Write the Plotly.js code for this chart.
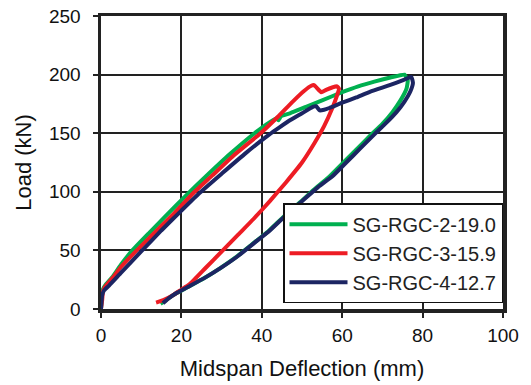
<!DOCTYPE html>
<html>
<head>
<meta charset="utf-8">
<script src="https://cdn.plot.ly/plotly-3.0.1.min.js"></script>
<style>html,body{margin:0;padding:0;background:#fff;}#chart{width:531px;height:385px;}</style>
</head>
<body>
<div id="chart"></div>
<script>
// SG-RGC-2-19.0 (green)
const g2_x = [0, 0.2, 0.5, 1.2, 3, 5, 7.8, 12, 16, 21.5, 26.2, 32, 38.2, 42, 43.6, 44.1, 44.8, 47, 51, 55, 60, 64, 68, 72, 75.5,
              76.3, 76, 74.5, 72.5, 70, 67, 63.5, 60, 56.5, 53, 49.5, 45.5, 41.5, 37.5, 33.5, 29.5, 25.5, 21.5, 18.5, 16.5, 14.8];
const g2_y = [0, 10, 17, 21, 28, 38, 50, 65, 79, 98, 113.5, 132, 150, 159.5, 162.5, 161, 164.5, 167, 172.5, 178, 185, 190, 194, 197.5, 200,
              195, 188, 178, 168, 158, 148, 136, 124, 112, 102, 91, 79, 66, 55, 44, 34.5, 26, 18.5, 13, 8.5, 4.5];
// SG-RGC-3-15.9 (red)
const g3_x = [0, 0.3, 0.5, 1, 3, 5, 8.9, 13, 18, 23, 27.7, 33, 39.7, 44, 47.7, 50.5, 52.3, 53, 54.8, 56, 57.5, 58.7,
              59.2, 58.7, 57.5, 55.5, 53, 50, 46, 42, 38, 34, 30, 26, 22, 20, 18, 15.5, 13.7];
const g3_y = [0, 8, 15, 19, 27, 36, 50, 64, 81, 99, 114, 131, 150, 164, 177, 186, 190.5, 191, 185, 187, 189, 190,
              188, 182, 171, 156, 141, 125, 108, 92, 77, 63, 49, 35, 21, 16.5, 12, 7.5, 5.5];
// SG-RGC-4-12.7 (navy)
const g4_x = [0, 0.3, 0.8, 2, 5, 9.7, 15, 20, 24.5, 30.2, 36, 41.9, 44.4, 47, 50, 52.7, 53.5, 54.4, 55.5, 56.8, 60, 63.5, 67, 71.8, 75, 77.2,
              77.6, 77, 75.5, 73.5, 71, 68, 64.5, 61, 57.5, 54, 50, 46, 42, 38, 34, 30, 26, 22, 19, 17, 15.4];
const g4_y = [0, 12, 16, 20, 31, 48, 67, 84, 99, 116, 133, 149, 155, 161, 167, 172.5, 173, 169.5, 170, 171.5, 176, 180.5, 185.5, 191, 195, 198,
              193, 186, 177, 168, 159, 149, 137, 125, 113, 104, 92, 80, 67, 56, 45, 35.5, 27, 19.5, 14, 9.5, 5];

const names = ['SG-RGC-2-19.0', 'SG-RGC-3-15.9', 'SG-RGC-4-12.7'];
const colors = ['#00B050', '#ED1C24', '#1C2563'];
const xs = [g2_x, g3_x, g4_x];
const ys = [g2_y, g3_y, g4_y];

const traces = names.map((n, i) => ({
  x: xs[i], y: ys[i], name: n, type: 'scatter', mode: 'lines',
  line: {color: colors[i], width: 4, shape: 'spline', smoothing: 0.4},
  legendgroup: 'g' + i
}));

const FONT = '"Liberation Sans", Arial, sans-serif';
const layout = {
  width: 531, height: 385,
  margin: {l: 101, r: 28, t: 16, b: 76},
  paper_bgcolor: '#fff', plot_bgcolor: '#fff',
  font: {family: FONT, size: 19, color: '#111'},
  showlegend: true,
  legend: {
    x: 1.0, y: 0.02, xanchor: 'right', yanchor: 'bottom',
    bgcolor: '#fff', bordercolor: '#111', borderwidth: 1.5,
    font: {family: FONT, size: 20, color: '#222'},
    traceorder: 'grouped', tracegroupgap: 0, itemwidth: 58
  },
  xaxis: {
    range: [0, 100], tickvals: [0, 20, 40, 60, 80, 100],
    showgrid: true, gridcolor: '#222', gridwidth: 2,
    showline: true, linecolor: '#222', linewidth: 3.5, mirror: true,
    ticks: 'outside', ticklen: 5, tickwidth: 2, tickcolor: '#222',
    ticklabelstandoff: 2,
    zeroline: false,
    tickfont: {family: FONT, size: 19, color: '#111'},
    title: {text: 'Midspan Deflection (mm)', font: {family: FONT, size: 22, color: '#111'}, standoff: 16}
  },
  yaxis: {
    range: [0, 250], tickvals: [0, 50, 100, 150, 200, 250],
    showgrid: true, gridcolor: '#222', gridwidth: 2,
    showline: true, linecolor: '#222', linewidth: 3.5, mirror: true,
    ticks: 'outside', ticklen: 5, tickwidth: 2, tickcolor: '#222',
    ticklabelstandoff: 8,
    zeroline: false,
    tickfont: {family: FONT, size: 19, color: '#111'},
    title: {text: 'Load (kN)', font: {family: FONT, size: 22, color: '#111'}, standoff: 12}
  }
};

Plotly.newPlot('chart', traces, layout, {displayModeBar: false, staticPlot: true});
</script>
</body>
</html>
